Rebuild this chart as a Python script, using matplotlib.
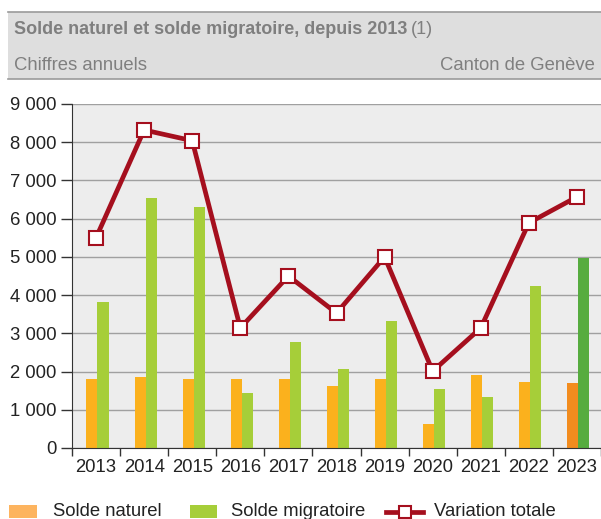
import numpy as np
import matplotlib
matplotlib.use("Agg")
import matplotlib.pyplot as plt
from matplotlib.patches import Rectangle
from matplotlib.lines import Line2D
from matplotlib.ticker import FuncFormatter

plt.rcParams["font.family"] = ["Liberation Sans", "DejaVu Sans"]

years = ["2013", "2014", "2015", "2016", "2017", "2018", "2019", "2020", "2021", "2022", "2023"]
solde_naturel = [1800, 1860, 1800, 1800, 1800, 1620, 1800, 630, 1910, 1730, 1700]
solde_migratoire = [3820, 6540, 6310, 1440, 2780, 2070, 3320, 1540, 1330, 4240, 4970]
variation_totale = [5500, 8320, 8040, 3140, 4500, 3530, 5000, 2010, 3140, 5890, 6570]

W, H = 601, 519
RED = "#A50F1E"
fig = plt.figure(figsize=(W / 100, H / 100), dpi=100)


def fx(px):
    return px / W


def fy(py):
    return 1 - py / H


# header box
fig.patches.append(Rectangle((fx(8), fy(79)), 1 - fx(8), 67 / H, transform=fig.transFigure,
                             facecolor="#DEDEDE", edgecolor="none", zorder=0))
for yy in (12, 79):
    fig.add_artist(Line2D([fx(8), 1], [fy(yy)] * 2, color="#9A9A9A", lw=1.2))
t = fig.text(fx(14), fy(30), "Solde naturel et solde migratoire, depuis 2013", fontsize=13,
             fontweight="bold", color="#7F7F7F", va="center", ha="left")
fig.canvas.draw()
bb = t.get_window_extent()
fig.text(bb.x1 / W + fx(4), fy(30), "(1)", fontsize=13, color="#7F7F7F", va="center", ha="left")
fig.text(fx(14), fy(65), "Chiffres annuels", fontsize=13.3, color="#7F7F7F", va="center", ha="left")
fig.text(fx(595), fy(65), "Canton de Genève", fontsize=13.3, color="#7F7F7F", va="center", ha="right")

ax = fig.add_axes([fx(72), fy(448), 1 - fx(72), (448 - 104) / H])
ax.set_facecolor("#EDEDED")
x = np.arange(len(years))
w = 0.23
nat_colors = ["#FBB11D"] * (len(years) - 1) + ["#F28C1E"]
mig_colors = ["#A6CE39"] * (len(years) - 1) + ["#56AC3F"]
ax.bar(x - w / 2 + 0.03, solde_naturel, w, color=nat_colors, zorder=2)
ax.bar(x + w / 2 + 0.03, solde_migratoire, w, color=mig_colors, zorder=2)
ax.plot(x, variation_totale, color=RED, lw=3.4, marker="s", markersize=9.5,
        markerfacecolor="white", markeredgecolor=RED, markeredgewidth=1.5, zorder=3)

ax.set_xlim(-0.5, len(years) - 0.5)
ax.set_ylim(0, 9000)
ax.set_yticks(range(0, 9001, 1000))
ax.yaxis.set_major_formatter(FuncFormatter(lambda v, p: f"{int(v):,}".replace(",", " ")))
ax.grid(axis="y", color="#A0A0A0", lw=1, zorder=1)
ax.set_axisbelow(True)

ax.set_xticks(x)
ax.set_xticklabels(years)
ax.set_xticks(np.arange(-0.5, len(years), 1), minor=True)
ax.tick_params(axis="x", which="major", length=0, labelsize=13.3, pad=8, colors="#222222")
ax.tick_params(axis="x", which="minor", length=6, width=1, color="#333333", direction="out")
ax.tick_params(axis="y", length=8, width=1, color="#333333", labelsize=13.3, pad=3, labelcolor="#222222")
for s in ("top", "right"):
    ax.spines[s].set_visible(False)
ax.spines["left"].set_color("#333333")
ax.spines["bottom"].set_color("#333333")

# legend, drawn at the bottom edge
ly = 512
fig.patches.append(Rectangle((fx(9), fy(518)), 28 / W, 13 / H, transform=fig.transFigure,
                             facecolor="#FDB45F", edgecolor="none"))
fig.text(fx(53), fy(ly), "Solde naturel", fontsize=13.3, color="#222222", va="center", ha="left")
fig.patches.append(Rectangle((fx(190), fy(518)), 27 / W, 13 / H, transform=fig.transFigure,
                             facecolor="#A6CE39", edgecolor="none"))
fig.text(fx(231), fy(ly), "Solde migratoire", fontsize=13.3, color="#222222", va="center", ha="left")
fig.add_artist(Line2D([fx(386), fx(423)], [fy(ly)] * 2, color=RED, lw=3.4))
fig.add_artist(Line2D([fx(404.5)], [fy(ly)], marker="s", markersize=9, markerfacecolor="white",
                      markeredgecolor=RED, markeredgewidth=1.5, linestyle="none"))
fig.text(fx(434), fy(ly), "Variation totale", fontsize=13.3, color="#222222", va="center", ha="left")

fig.savefig("out.png", dpi=100)
